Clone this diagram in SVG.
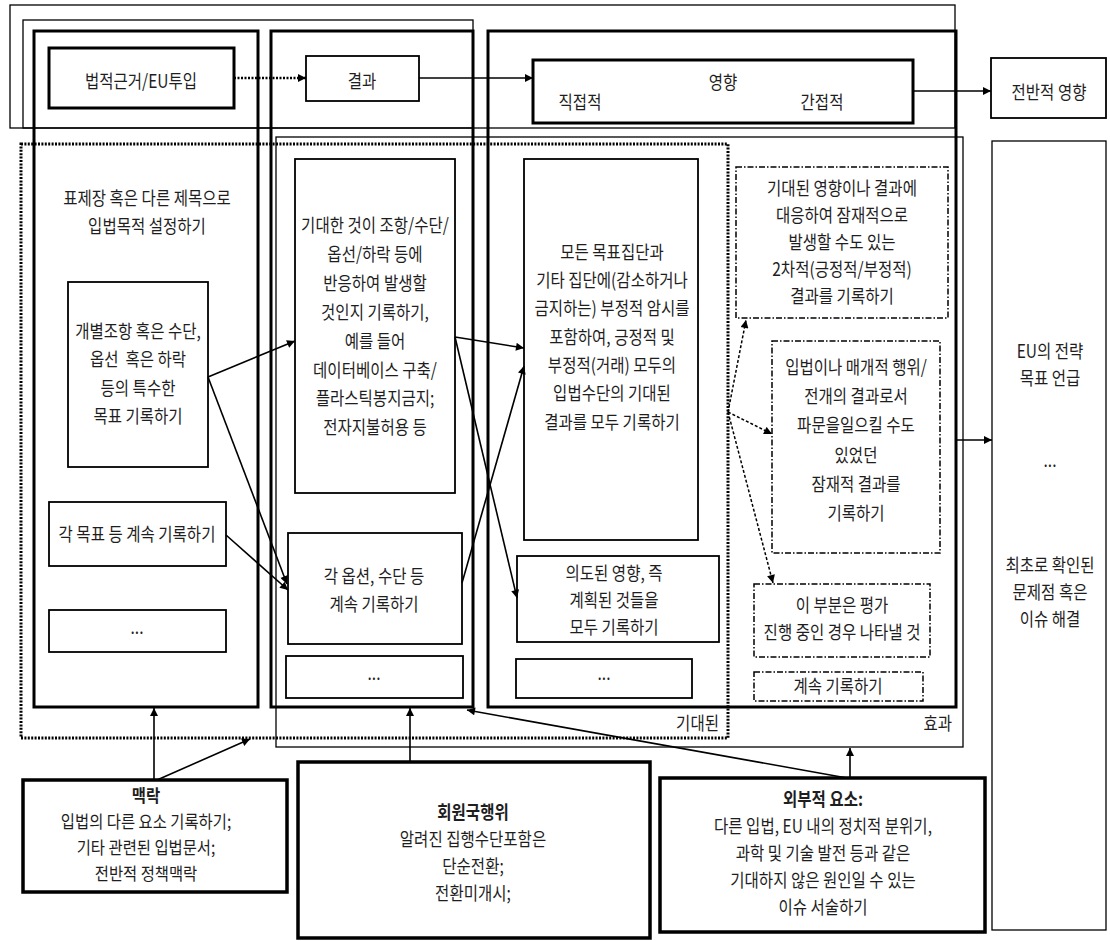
<svg xmlns="http://www.w3.org/2000/svg" width="1110" height="941" viewBox="0 0 1110 941">
<defs>
<marker id="ah" viewBox="0 0 10 10" refX="10" refY="5" markerWidth="10" markerHeight="8" markerUnits="userSpaceOnUse" orient="auto">
<path d="M0,0 L10,5 L0,10 z" fill="#000"/>
</marker>
<style>
.fr{fill:none;stroke:#000;stroke-width:1.3}
.col{fill:none;stroke:#000;stroke-width:3}
.bx{fill:none;stroke:#000;stroke-width:1.8}
.tk{fill:none;stroke:#000;stroke-width:3}
.bt{fill:#fff;stroke:#000;stroke-width:3.5}
.dot{fill:none;stroke:#000;stroke-width:3;stroke-dasharray:2 1.4}
.dd{fill:none;stroke:#000;stroke-width:1.5;stroke-dasharray:6 2 1.5 2}
.c{fill:none;stroke:#000;stroke-width:1.6;marker-end:url(#ah)}
.cd{fill:none;stroke:#000;stroke-width:1.5;stroke-dasharray:3 2;marker-end:url(#ah)}
.cdt{fill:none;stroke:#000;stroke-width:2.5;stroke-dasharray:2 1.5;marker-end:url(#ah)}
text{font-family:"Noto Sans CJK KR","Noto Sans",sans-serif;font-size:18.5px;fill:#1e1e1e;text-anchor:middle}
text.s{font-size:17.5px}
.b{font-weight:700}
.e{text-anchor:end}
</style>
</defs>

<g id="frames">
<rect class="fr" x="10" y="5" width="945" height="123"/>
<rect class="fr" x="23" y="20" width="450" height="108"/>
<rect class="fr" x="276" y="137" width="687" height="610"/>
<rect class="dot" x="21" y="144" width="707" height="594"/>
<rect class="col" x="34" y="31" width="224" height="676"/>
<rect class="col" x="271" y="31" width="202" height="676"/>
<rect class="col" x="488" y="31" width="468" height="676"/>
<text class="e" transform="translate(719 0) scale(0.84 1)" x="0" y="730">기대된</text>
<text class="e" transform="translate(952 0) scale(0.84 1)" x="0" y="730">효과</text>
</g>

<g id="n-legal">
<rect class="tk" x="49" y="48" width="185" height="60"/>
<text transform="translate(141 0) scale(0.84 1)" x="0" y="88">법적근거/EU투입</text>
</g>
<g id="n-result">
<rect class="bx" x="306" y="56" width="113" height="45"/>
<text transform="translate(362 0) scale(0.84 1)" x="0" y="88">결과</text>
</g>
<g id="n-impact">
<rect class="tk" x="533" y="60" width="380" height="63"/>
<text transform="translate(723 0) scale(0.84 1)" x="0" y="89">영향</text>
<text transform="translate(580 0) scale(0.84 1)" x="0" y="109">직접적</text>
<text transform="translate(822 0) scale(0.84 1)" x="0" y="109">간접적</text>
</g>
<g id="n-overall">
<rect class="bx" x="991" y="58" width="115" height="60"/>
<text transform="translate(1049 0) scale(0.84 1)" x="0" y="99">전반적 영향</text>
</g>

<g id="n-purpose">
<text transform="translate(147 0) scale(0.84 1)"><tspan x="0" y="205">표제장 혹은 다른 제목으로</tspan><tspan x="0" y="233">입법목적 설정하기</tspan></text>
</g>
<g id="n-objective">
<rect class="bx" x="68" y="282" width="140" height="185"/>
<text transform="translate(138 0) scale(0.84 1)"><tspan x="0" y="338">개별조항 혹은 수단,</tspan><tspan x="0" y="366">옵선&#160; 혹은 하락</tspan><tspan x="0" y="395">등의 특수한</tspan><tspan x="0" y="423">목표 기록하기</tspan></text>
</g>
<g id="n-obj-cont">
<rect class="bx" x="49" y="502" width="177" height="64"/>
<text transform="translate(137 0) scale(0.84 1)" x="0" y="541">각 목표 등 계속 기록하기</text>
</g>
<g id="n-obj-more">
<rect class="bx" x="49" y="610" width="177" height="42"/>
<text transform="translate(137 0) scale(0.84 1)" x="0" y="634">...</text>
</g>

<g id="n-expected">
<rect class="bx" x="295" y="159" width="160" height="334"/>
<text transform="translate(375 0) scale(0.84 1)"><tspan x="0" y="232">기대한 것이 조항/수단/</tspan><tspan x="0" y="261">옵선/하락 등에</tspan><tspan x="0" y="290">반응하여 발생할</tspan><tspan x="0" y="319">것인지 기록하기,</tspan><tspan x="0" y="348">예를 들어</tspan><tspan x="0" y="377">데이터베이스 구축/</tspan><tspan x="0" y="405">플라스틱봉지금지;</tspan><tspan x="0" y="434">전자지불허용 등</tspan></text>
</g>
<g id="n-opt-cont">
<rect class="bx" x="288" y="533" width="174" height="111"/>
<text transform="translate(374 0) scale(0.84 1)"><tspan x="0" y="583">각 옵션, 수단 등</tspan><tspan x="0" y="611">계속 기록하기</tspan></text>
</g>
<g id="n-opt-more">
<rect class="bx" x="286" y="656" width="177" height="42"/>
<text transform="translate(374 0) scale(0.84 1)" x="0" y="680">...</text>
</g>

<g id="n-all-results">
<rect class="bx" x="524" y="159" width="174" height="381"/>
<text transform="translate(612 0) scale(0.84 1)"><tspan x="0" y="259">모든 목표집단과</tspan><tspan x="0" y="287">기타 집단에(감소하거나</tspan><tspan x="0" y="315">금지하는) 부정적 암시를</tspan><tspan x="0" y="344">포함하여, 긍정적 및</tspan><tspan x="0" y="372">부정적(거래) 모두의</tspan><tspan x="0" y="400">입법수단의 기대된</tspan><tspan x="0" y="429">결과를 모두 기록하기</tspan></text>
</g>
<g id="n-intended">
<rect class="bx" x="517" y="556" width="202" height="86"/>
<text transform="translate(614 0) scale(0.84 1)"><tspan x="0" y="580">의도된 영향, 즉</tspan><tspan x="0" y="607">계획된 것들을</tspan><tspan x="0" y="634">모두 기록하기</tspan></text>
</g>
<g id="n-res-more">
<rect class="bx" x="516" y="659" width="176" height="39"/>
<text transform="translate(604 0) scale(0.84 1)" x="0" y="680">...</text>
</g>

<g id="n-secondary">
<rect class="dd" x="736" y="167" width="212" height="151"/>
<text transform="translate(842 0) scale(0.84 1)"><tspan x="0" y="195">기대된 영향이나 결과에</tspan><tspan x="0" y="222">대응하여 잠재적으로</tspan><tspan x="0" y="249">발생할 수도 있는</tspan><tspan x="0" y="276">2차적(긍정적/부정적)</tspan><tspan x="0" y="303">결과를 기록하기</tspan></text>
</g>
<g id="n-ripple">
<rect class="dd" x="772" y="341" width="168" height="212"/>
<text transform="translate(856 0) scale(0.84 1)"><tspan x="0" y="374">입법이나 매개적 행위/</tspan><tspan x="0" y="403">전개의 결과로서</tspan><tspan x="0" y="432">파문을일으킬 수도</tspan><tspan x="0" y="462">있었던</tspan><tspan x="0" y="491">잠재적 결과를</tspan><tspan x="0" y="520">기록하기</tspan></text>
</g>
<g id="n-eval">
<rect class="dd" x="754" y="584" width="176" height="73"/>
<text transform="translate(842 0) scale(0.84 1)"><tspan x="0" y="612">이 부분은 평가</tspan><tspan x="0" y="639">진행 중인 경우 나타낼 것</tspan></text>
</g>
<g id="n-eff-cont">
<rect class="dd" x="754" y="672" width="169" height="29"/>
<text transform="translate(838 0) scale(0.84 1)" x="0" y="693">계속 기록하기</text>
</g>

<g id="n-strategy">
<rect class="fr" x="992" y="141" width="114" height="789"/>
<text transform="translate(1050 0) scale(0.84 1)"><tspan x="0" y="358">EU의 전략</tspan><tspan x="0" y="385">목표 언급</tspan><tspan x="0" y="467">...</tspan><tspan x="0" y="572">최초로 확인된</tspan><tspan x="0" y="599">문제점 혹은</tspan><tspan x="0" y="626">이슈 해결</tspan></text>
</g>

<g id="n-context">
<rect class="bt" x="23" y="780" width="264" height="112"/>
<text class="s" transform="translate(146 0) scale(0.88 1)"><tspan class="b" x="0" y="802">맥락</tspan><tspan x="0" y="828">입법의 다른 요소 기록하기;</tspan><tspan x="0" y="854">기타 관련된 입법문서;</tspan><tspan x="0" y="880">전반적 정책맥락</tspan></text>
</g>
<g id="n-member">
<rect class="bt" x="298" y="762" width="352" height="176"/>
<text transform="translate(473 0) scale(0.84 1)"><tspan class="b" x="0" y="819">회원국행위</tspan><tspan x="0" y="846">알려진 집행수단포함은</tspan><tspan x="0" y="873">단순전환;</tspan><tspan x="0" y="900">전환미개시;</tspan></text>
</g>
<g id="n-external">
<rect class="bt" x="660" y="778" width="325" height="154"/>
<text transform="translate(823 0) scale(0.84 1)"><tspan class="b" x="0" y="806">외부적 요소:</tspan><tspan x="0" y="833">다른 입법, EU 내의 정치적 분위기,</tspan><tspan x="0" y="860">과학 및 기술 발전 등과 같은</tspan><tspan x="0" y="887">기대하지 않은 원인일 수 있는</tspan><tspan x="0" y="914">이슈 서술하기</tspan></text>
</g>

<g id="connectors">
<line class="cdt" x1="234" y1="78" x2="306" y2="78"/>
<line class="c" x1="419" y1="78" x2="533" y2="78"/>
<line class="c" x1="913" y1="91" x2="991" y2="91"/>
<line class="c" x1="208" y1="377" x2="295" y2="341"/>
<line class="c" x1="208" y1="377" x2="287" y2="584"/>
<line class="c" x1="226" y1="535" x2="288" y2="590"/>
<line class="c" x1="455" y1="337" x2="524" y2="348"/>
<line class="c" x1="455" y1="337" x2="517" y2="598"/>
<line class="c" x1="462" y1="583" x2="524" y2="366"/>
<line class="cd" x1="728" y1="412" x2="746" y2="320"/>
<line class="cd" x1="728" y1="412" x2="772" y2="434"/>
<line class="cd" x1="728" y1="412" x2="773" y2="583"/>
<line class="c" x1="956" y1="440" x2="992" y2="440"/>
<line class="c" x1="154" y1="780" x2="154" y2="708"/>
<line class="c" x1="157" y1="780" x2="250" y2="739"/>
<line class="c" x1="410" y1="762" x2="410" y2="708"/>
<line class="c" x1="847" y1="778" x2="467" y2="710"/>
<line class="c" x1="850" y1="778" x2="850" y2="748"/>
</g>
</svg>
